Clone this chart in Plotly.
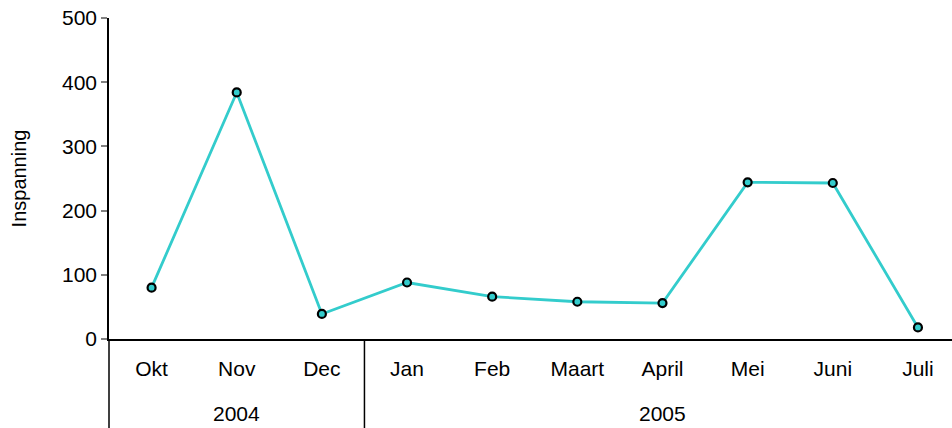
import plotly.graph_objects as go

months = ["Okt", "Nov", "Dec", "Jan", "Feb", "Maart", "April", "Mei", "Juni", "Juli"]
values = [80, 384, 39, 88, 66, 58, 56, 244, 243, 18]
years = ["2004", "2005"]
year_centers = [1, 6]          # category index at which each year label is centred
year_split = [2.5]             # boundary between the year groups (category units)
y_ticks = [0, 100, 200, 300, 400, 500]

FONT = "Liberation Sans, Arial, sans-serif"
LINE = "#33CCCC"
FS = 21

fig = go.Figure()
fig.add_trace(go.Scatter(
    x=list(range(len(months))), y=values, mode="lines+markers",
    line=dict(color=LINE, width=2.8),
    marker=dict(size=8, color=LINE, line=dict(color="black", width=2.2)),
    showlegend=False, hoverinfo="skip"))

fig.update_layout(
    width=952, height=428,
    margin=dict(l=109, r=0, t=18, b=89, autoexpand=False),
    paper_bgcolor="white", plot_bgcolor="white",
    font=dict(family=FONT, size=FS, color="black"),
    xaxis=dict(
        range=[-0.5, 9.4], tickmode="array",
        tickvals=list(range(len(months))), ticktext=months,
        showgrid=False, zeroline=False, showline=True, linecolor="black", linewidth=1.5,
        ticks="", ticklabelstandoff=10, tickfont=dict(size=FS), automargin=False,
    ),
    yaxis=dict(
        range=[0, 500], tickmode="array", tickvals=y_ticks,
        showgrid=False, zeroline=False, showline=True, linecolor="black", linewidth=1.5,
        ticks="outside", ticklen=6, tickcolor="#808080", tickwidth=1.5,
        tickfont=dict(size=FS), automargin=False,
        title=dict(text="Inspanning", font=dict(size=20), standoff=30),
    ),
)

# vertical separators below the axis (left edge and between years)
fig.add_shape(type="line", xref="paper", yref="paper", x0=0, x1=0, y0=0, y1=-0.3,
              line=dict(color="black", width=1.5))
for s in year_split:
    fig.add_shape(type="line", xref="x", yref="paper", x0=s, x1=s, y0=0, y1=-0.3,
                  line=dict(color="black", width=1.5))

for yr, c in zip(years, year_centers):
    fig.add_annotation(x=c, xref="x", y=0, yref="paper", yshift=-74, text=yr,
                       showarrow=False, font=dict(size=FS), yanchor="middle")

fig.write_html("out.html", config={"displayModeBar": False},
               post_script="document.body.style.margin='0';document.body.style.overflow='hidden';")
